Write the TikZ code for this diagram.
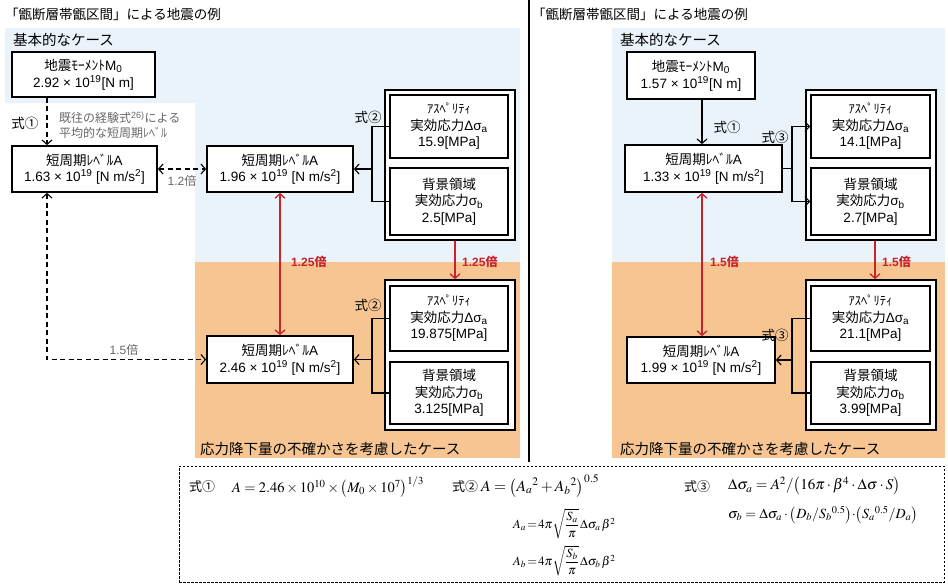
\documentclass[tikz,border=0pt]{standalone}
\usepackage{amsmath}
\usepackage{mathptmx}
\usepackage[no-math]{fontspec}
\setmainfont{Liberation Sans}
\newfontfamily\jp{Noto Sans CJK JP}
\usetikzlibrary{arrows.meta}
\definecolor{bgblue}{HTML}{EAF2FA}
\definecolor{bgorange}{HTML}{F6C592}
\definecolor{myred}{HTML}{C8232B}
\definecolor{anngray}{HTML}{666666}
\newcommand\placebox[7][]{\node[box,#1,minimum width={#5pt-#3pt},minimum height={#6pt-#4pt}] (#2) at ({(#3+#5)/2},{(#4+#6)/2}) {#7};}
\newcommand\smallk{\fontsize{12.5}{14}\selectfont}
\newcommand\tightm{\thickmuskip=2mu\medmuskip=1.5mu}
\begin{document}
\begin{tikzpicture}[x=1pt,y=-1pt,
  >={Straight Barb[length=4.5pt,width=10pt]},
  box/.style={draw,line width=1.7pt,fill=white,align=center,inner sep=0pt,font=\fontsize{13.5}{16.5}\selectfont},
  frame/.style={draw,line width=1.7pt,fill=white,inner sep=0pt},
  conn/.style={line width=1.1pt},
  dconn/.style={line width=1.1pt,dash pattern=on 5pt off 3.5pt},
  rconn/.style={line width=1.3pt,draw=myred,<->},
  redlab/.style={text=myred,font=\bfseries\fontsize{12}{14}\selectfont,inner sep=1pt},
  lab/.style={font=\fontsize{13.5}{16}\selectfont,inner sep=1pt},
  slab/.style={font=\fontsize{12}{14}\selectfont,inner sep=1pt},
  ann/.style={text=anngray,font=\fontsize{12}{15}\selectfont,inner sep=1pt,align=left},
  fml/.style={font=\fontsize{13}{15}\selectfont,inner sep=0pt}]
\useasboundingbox (0,0) rectangle (948,584);
% backgrounds
\fill[bgblue] (5,28) -- (520,28) -- (520,262) -- (195,262) -- (195,103) -- (5,103) -- cycle;
\fill[bgorange] (195,262) rectangle (520,458);
\fill[bgblue] (612,28) rectangle (945,262);
\fill[bgorange] (612,262) rectangle (945,458);
\draw[line width=1.2pt] (529,0) -- (529,462);
% titles
\node[lab,anchor=west] (t1) at (4,14) {\jp 「甑断層帯甑区間」による地震の例};
\node[lab,anchor=west] (t2) at (531,14) {\jp 「甑断層帯甑区間」による地震の例};
\node[lab,anchor=west,font=\fontsize{14.5}{16}\selectfont] (k1) at (12,40) {\jp 基本的なケース};
\node[lab,anchor=west,font=\fontsize{14.5}{16}\selectfont] (k2) at (619,40) {\jp 基本的なケース};
\node[lab,anchor=west,font=\fontsize{14.5}{16}\selectfont] (u1) at (199,449) {\jp 応力降下量の不確かさを考慮したケース};
\node[lab,anchor=west,font=\fontsize{14.5}{16}\selectfont] (u2) at (619,449) {\jp 応力降下量の不確かさを考慮したケース};
\coordinate (x47) at (47,0);
\coordinate (xjl) at (372,0);
\coordinate (xal) at (455,0);
\coordinate (x702) at (702,0);
\coordinate (xjr) at (792,0);
\coordinate (xar) at (875,0);
% ===== left panel =====
\placebox{m0l}{12}{52}{155}{97}{{\jp 地震ﾓｰﾒﾝﾄ}M\textsubscript{0}\\2.92 × 10\textsuperscript{19}[N m]}
\placebox{lA}{12}{146}{157}{192}{{\jp 短周期ﾚﾍﾞﾙ}A\\1.63 × 10\textsuperscript{19} [N m/s\textsuperscript{2}]}
\placebox{mA}{207}{146}{353}{192}{{\jp 短周期ﾚﾍﾞﾙ}A\\1.96 × 10\textsuperscript{19} [N m/s\textsuperscript{2}]}
\placebox{lowA}{207}{336}{353}{383}{{\jp 短周期ﾚﾍﾞﾙ}A\\2.46 × 10\textsuperscript{19} [N m/s\textsuperscript{2}]}
\placebox[frame]{frUl}{385}{90}{515}{240}{}
\placebox{aspUl}{390}{95}{508}{158}{{\jp\smallk ｱｽﾍﾟﾘﾃｨ}\\{\jp 実効応力}Δσ\textsubscript{a}\\15.9[MPa]}
\placebox{bgUl}{390}{168}{508}{235}{{\jp 背景領域}\\{\jp 実効応力}σ\textsubscript{b}\\2.5[MPa]}
\placebox[frame]{frLl}{385}{280}{515}{430}{}
\placebox{aspLl}{390}{286}{508}{351}{{\jp\smallk ｱｽﾍﾟﾘﾃｨ}\\{\jp 実効応力}Δσ\textsubscript{a}\\19.875[MPa]}
\placebox{bgLl}{390}{362}{508}{424}{{\jp 背景領域}\\{\jp 実効応力}σ\textsubscript{b}\\3.125[MPa]}
% left connectors
\draw[dconn,->] (m0l.south -| x47) -- (lA.north -| x47);
\node[lab,anchor=center] (s1l) at (25,123) {\jp 式①};
\node[ann,anchor=west] (annl) at (58,125) {{\jp 既往の経験式}\textsuperscript{26)}{\jp による}\\{\jp 平均的な短周期ﾚﾍﾞﾙ}};
\draw[dconn,<->] (lA.east) -- (mA.west);
\node[slab,text=anngray] (r12) at (182,181) {1.2{\jp 倍}};
\draw[dconn,<->] (lA.south -| x47) |- (lowA.west);
\node[slab,text=anngray] (r15) at (124,350) {1.5{\jp 倍}};
\draw[rconn] (mA.south) -- (lowA.north);
\node[redlab,anchor=west] (r125a) at (290,262) {1.25{\jp 倍}};
\draw[conn] (aspUl.west) -- (aspUl.west -| xjl) -- (bgUl.west -| xjl) -- (bgUl.west);
\draw[conn,->] (mA.east -| xjl) -- (mA.east);
\node[lab] (s2u) at (368,117) {\jp 式②};
\draw[line width=1.3pt,draw=myred,->] (frUl.south -| xal) -- (frLl.north -| xal);
\node[redlab,anchor=west] (r125b) at (461,262) {1.25{\jp 倍}};
\draw[conn] (aspLl.west) -- (aspLl.west -| xjl) -- (bgLl.west -| xjl) -- (bgLl.west);
\draw[conn,->] (lowA.east -| xjl) -- (lowA.east);
\node[lab] (s2l) at (368,305) {\jp 式②};
% ===== right panel =====
\placebox{m0r}{627}{52}{755}{99}{{\jp 地震ﾓｰﾒﾝﾄ}M\textsubscript{0}\\1.57 × 10\textsuperscript{19}[N m]}
\placebox{rA}{625}{145}{782}{192}{{\jp 短周期ﾚﾍﾞﾙ}A\\1.33 × 10\textsuperscript{19} [N m/s\textsuperscript{2}]}
\placebox{lowRA}{627}{337}{775}{383}{{\jp 短周期ﾚﾍﾞﾙ}A\\1.99 × 10\textsuperscript{19} [N m/s\textsuperscript{2}]}
\placebox[frame]{frUr}{806}{90}{936}{240}{}
\placebox{aspUr}{811}{95}{930}{158}{{\jp\smallk ｱｽﾍﾟﾘﾃｨ}\\{\jp 実効応力}Δσ\textsubscript{a}\\14.1[MPa]}
\placebox{bgUr}{811}{168}{930}{235}{{\jp 背景領域}\\{\jp 実効応力}σ\textsubscript{b}\\2.7[MPa]}
\placebox[frame]{frLr}{806}{280}{936}{430}{}
\placebox{aspLr}{811}{286}{930}{351}{{\jp\smallk ｱｽﾍﾟﾘﾃｨ}\\{\jp 実効応力}Δσ\textsubscript{a}\\21.1[MPa]}
\placebox{bgLr}{811}{362}{930}{424}{{\jp 背景領域}\\{\jp 実効応力}σ\textsubscript{b}\\3.99[MPa]}
\draw[conn,->] (m0r.south -| x702) -- (rA.north -| x702);
\node[lab] (s1r) at (727,127) {\jp 式①};
\draw[conn] (rA.east) -- (rA.east -| xjr);
\draw[conn,->] (rA.east -| xjr) |- (aspUr.west);
\draw[conn,->] (rA.east -| xjr) |- (bgUr.west);
\node[lab] (s3u) at (775,137) {\jp 式③};
\draw[rconn] (rA.south -| x702) -- (lowRA.north -| x702);
\node[redlab,anchor=west] (r15a) at (709,262) {1.5{\jp 倍}};
\draw[line width=1.3pt,draw=myred,->] (frUr.south -| xar) -- (frLr.north -| xar);
\node[redlab,anchor=west] (r15b) at (881,262) {1.5{\jp 倍}};
\draw[conn] (aspLr.west) -- (aspLr.west -| xjr) -- (bgLr.west -| xjr) -- (bgLr.west);
\draw[conn,->] (lowRA.east -| xjr) -- (lowRA.east);
\node[lab] (s3l) at (775,335) {\jp 式③};
% ===== formulas =====
\node[draw,line width=0.8pt,dash pattern=on 2.5pt off 1.5pt,minimum width=765pt,minimum height=116pt,inner sep=0pt] (fbox) at (561.5,524) {};
\node[fml,anchor=west] (f1l) at (189,487) {\jp 式①};
\node[fml,anchor=west,font=\fontsize{14.5}{16}\selectfont] (f1) at (232,487) {$A=2.46\times10^{10}\times\bigl(M_0\times10^{7}\bigr)^{1/3}$};
\node[fml,anchor=west] (f2l) at (452,487) {\jp 式②};
\node[fml,anchor=west,font=\fontsize{15.5}{17}\selectfont] (f2) at (481,486) {$A=\bigl(A_a{}^2+A_b{}^2\bigr)^{0.5}$};
\node[fml,anchor=west,font=\fontsize{12.5}{14}\selectfont] (f2a) at (513,524) {$\tightm A_a=4\pi\sqrt{\dfrac{S_a}{\pi}}\,\Delta\sigma_a\,\beta^2$};
\node[fml,anchor=west,font=\fontsize{12.5}{14}\selectfont] (f2b) at (513,561) {$\tightm A_b=4\pi\sqrt{\dfrac{S_b}{\pi}}\,\Delta\sigma_b\,\beta^2$};
\node[fml,anchor=west] (f3l) at (684,487) {\jp 式③};
\node[fml,anchor=west,font=\fontsize{15}{17}\selectfont] (f3) at (728,486) {$\Delta\sigma_a=A^2/\bigl(16\pi\cdot\beta^4\cdot\Delta\sigma\cdot S\bigr)$};
\node[fml,anchor=west,font=\fontsize{14}{16}\selectfont] (f3b) at (728,515) {$\sigma_b=\Delta\sigma_a\cdot\bigl(D_b/S_b{}^{0.5}\bigr){\cdot}\bigl(S_a{}^{0.5}/D_a\bigr)$};
\end{tikzpicture}
\end{document}
